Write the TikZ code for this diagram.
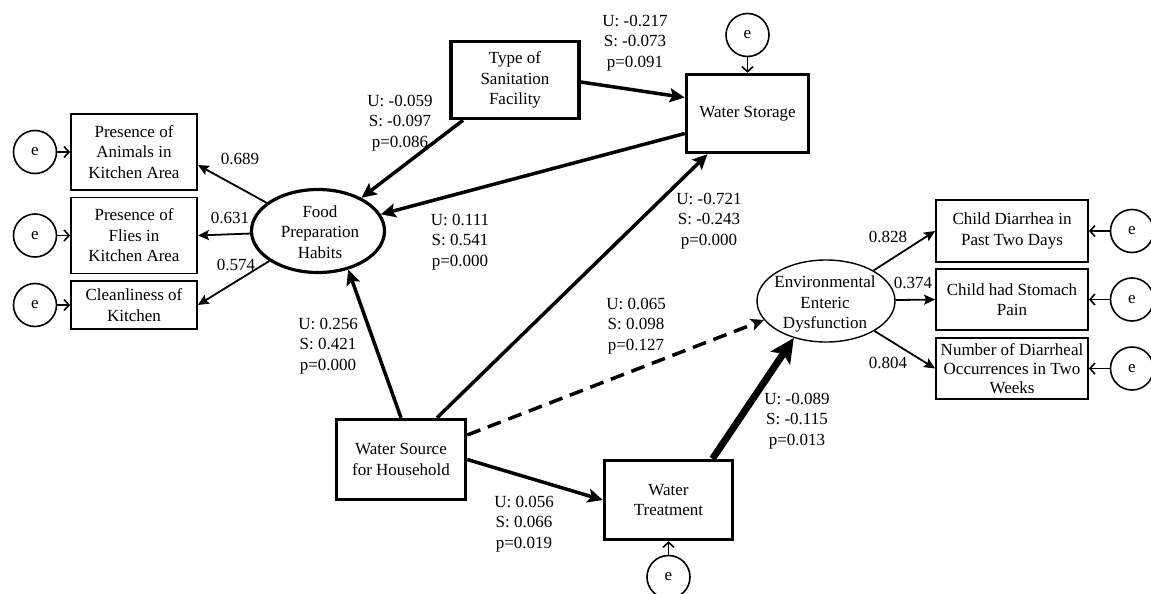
\documentclass[tikz,border=0pt]{standalone}
\usepackage{fontspec}
\setmainfont{Liberation Serif}
\usetikzlibrary{arrows.meta,shapes.geometric,calc}
\begin{document}
\begin{tikzpicture}[x=1pt,y=-1pt,
  every node/.style={font=\fontsize{17}{20.5}\selectfont, align=center, inner sep=0pt},
  thickbox/.style={draw, rectangle, line width=3.5pt},
  thinbox/.style={draw, rectangle, line width=1.8pt},
  err/.style={draw, circle, line width=1.6pt, minimum size=43pt},
  pathar/.style={line width=3.5pt, -{Stealth[length=15pt,width=14pt,inset=3pt]}},
  loadar/.style={line width=1.8pt, -{Stealth[length=11pt,width=10pt,inset=2pt]}},
  errar/.style={line width=1.6pt, -{Straight Barb[length=5pt,width=11pt]}}
]
\useasboundingbox (0,0) rectangle (1151,594);
\fill[white] (0,0) rectangle (1151,594);

% latent variables
\node[draw, ellipse, line width=3.2pt, minimum width=133pt, minimum height=83pt] (fp) at (318,231) {};
\node (fpt) at (320,232) {Food\\Preparation\\Habits};
\node[draw, ellipse, line width=1.4pt, minimum width=138pt, minimum height=82pt] (eed) at (826,301) {};
\node (eedt) at (825,304) {Environmental\\Enteric\\Dysfunction};

% observed
\node[thickbox, minimum width=128pt, minimum height=77pt] (san) at (515,80) {Type of\\Sanitation\\Facility};
\node[thickbox, minimum width=122pt, minimum height=78pt] (ws) at (747.5,113.5) {Water Storage};
\node[thickbox, minimum width=129pt, minimum height=80pt] (wsrc) at (401,459.5) {Water Source\\for Household};
\node[thickbox, minimum width=128pt, minimum height=79pt] (wt) at (668.5,500) {Water\\Treatment};

\node[thinbox, minimum width=126pt, minimum height=76pt] (b1) at (134,152) {Presence of\\Animals in\\Kitchen Area};
\node[thinbox, minimum width=126pt, minimum height=76pt] (b2) at (134,235.5) {Presence of\\Flies in\\Kitchen Area};
\node[thinbox, minimum width=126pt, minimum height=48pt] (b3) at (134,305) {Cleanliness of\\Kitchen};

\node[thinbox, minimum width=152pt, minimum height=62pt] (r1) at (1012,231) {Child Diarrhea in\\Past Two Days};
\node[thinbox, minimum width=152pt, minimum height=61pt] (r2) at (1012,299.5) {Child had Stomach\\Pain};
\node[thinbox, minimum width=152pt, minimum height=61pt, font=\fontsize{17}{19}\selectfont] (r3) at (1012,368.5) {Number of Diarrheal\\Occurrences in Two\\Weeks};

% error terms
\node[err] (el1) at (35,152) {e};
\node[err] (el2) at (35,235.5) {e};
\node[err] (el3) at (35,305) {e};
\node[err] (er1) at (1132,231) {e};
\node[err] (er2) at (1132,299.5) {e};
\node[err] (er3) at (1132,368.5) {e};
\node[err] (et) at (747.5,35) {e};
\node[err] (eb) at (668.5,577) {e};

\draw[errar] (el1) -- (b1);
\draw[errar] (el2) -- (b2);
\draw[errar] (el3) -- (b3);
\draw[errar] (er1) -- (r1);
\draw[errar] (er2) -- (r2);
\draw[errar] (er3) -- (r3);
\draw[errar] (et) -- (ws);
\draw[errar] (eb) -- (wt);

% structural paths
\draw[pathar] ([yshift=-2pt]san.east) -- ([yshift=16pt]ws.west);
\draw[pathar] ([xshift=-52pt]san.south) -- (fp);
\draw[pathar] ([yshift=-20pt]ws.west) -- (fp);
\draw[pathar] (wsrc.north) -- (fp.-52);
\draw[pathar] ([xshift=36pt]wsrc.north) -- ([xshift=-40pt]ws.south);
\draw[line width=3.5pt, dash pattern=on 14pt off 8pt, -{Stealth[length=13pt,width=12pt,inset=3pt]}] ([yshift=24.5pt]wsrc.east) -- (eed.197);
\draw[pathar] (wsrc.east) -- (wt.west);
\draw[line width=7pt, -{Stealth[length=24pt,width=23pt,inset=5pt]}] ([xshift=44pt]wt.north) -- (eed.229);

% loadings
\draw[loadar] (fp) -- ([yshift=-13pt]b1.east);
\draw[loadar] (fp) -- (b2.east);
\draw[loadar] (fp) -- (b3.east);
\draw[loadar] (eed) -- (r1.west);
\draw[loadar] (eed) -- (r2.west);
\draw[loadar] (eed) -- (r3.west);

% labels
\node (l1) at (635,43) {U: -0.217\\S: -0.073\\p=0.091};
\node (l2) at (400,123) {U: -0.059\\S: -0.097\\p=0.086};
\node (l3) at (460,242) {U: 0.111\\S: 0.541\\p=0.000};
\node (l4) at (328,346) {U: 0.256\\S: 0.421\\p=0.000};
\node (l5) at (709,221) {U: -0.721\\S: -0.243\\p=0.000};
\node (l6) at (636,326) {U: 0.065\\S: 0.098\\p=0.127};
\node (l7) at (524,524) {U: 0.056\\S: 0.066\\p=0.019};
\node (l8) at (797,421) {U: -0.089\\S: -0.115\\p=0.013};

\node (k1) at (240,159) {0.689};
\node (k2) at (230,218) {0.631};
\node (k3) at (236,265) {0.574};
\node (k4) at (888,237) {0.828};
\node (k5) at (913,283) {0.374};
\node (k6) at (888,363) {0.804};
\end{tikzpicture}
\end{document}
